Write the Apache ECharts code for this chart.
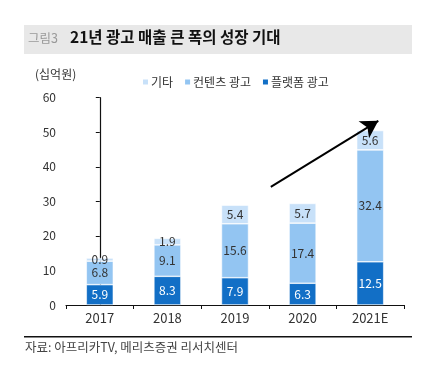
<!DOCTYPE html>
<html><head><meta charset="utf-8">
<script src="https://cdn.jsdelivr.net/npm/echarts@6/dist/echarts.min.js"></script>
<style>html,body{margin:0;padding:0;background:#fff;}#c{width:432px;height:367px;}</style>
</head><body><div id="c"></div>
<script>
const categories = ['2017', '2018', '2019', '2020', '2021E'];
const platform = [5.9, 8.3, 7.9, 6.3, 12.5];
const content = [6.8, 9.1, 15.6, 17.4, 32.4];
const other = [0.9, 1.9, 5.4, 5.7, 5.6];
const seriesNames = ['플랫폼 광고', '컨텐츠 광고', '기타'];
const arrowStart = [2.53, 34.2];
const arrowEnd = [4.12, 53.3];

const FONT = '"Noto Sans CJK KR", "Noto Sans", sans-serif';
const chart = echarts.init(document.getElementById('c'), null, {renderer: 'canvas'});
const colors = ['#126FC6', '#93C5F2', '#C8E1F9'];
function barSeries(name, data, idx) {
  return {
    name: name, type: 'bar', stack: 'total', data: data,
    xAxisIndex: 0, yAxisIndex: 0,
    barWidth: '40%',
    itemStyle: {color: colors[idx], borderColor: '#fff', borderWidth: 0.6},
    label: {show: true, position: 'inside', fontFamily: FONT, fontSize: 12,
      color: idx === 0 ? '#fff' : '#333', formatter: p => p.value.toFixed(1)}
  };
}
chart.setOption({
  animation: false,
  textStyle: {fontFamily: FONT},
  graphic: [
    {type: 'rect', shape: {x: 24, y: 25, width: 388, height: 29}, style: {fill: '#E8E8E8'}},
    {type: 'text', left: 28, top: 32, style: {text: '그림3', fill: '#999', font: '12.5px ' + FONT}},
    {type: 'text', left: 70, top: 29, style: {text: '21년 광고 매출 큰 폭의 성장 기대', fill: '#111', font: 'bold 15.5px ' + FONT}},
    {type: 'text', left: 35, top: 68, style: {text: '(십억원)', fill: '#333', font: '12px ' + FONT}},
    {type: 'rect', shape: {x: 24, y: 336, width: 388, height: 1.5}, style: {fill: '#111'}},
    {type: 'text', left: 25, top: 341, style: {text: '자료: 아프리카TV, 메리츠증권 리서치센터', fill: '#444', font: '12.5px ' + FONT}}
  ],
  legend: {
    top: 71, left: 136, itemWidth: 7, itemHeight: 7, itemGap: 10,
    icon: 'rect',
    data: ['기타', '컨텐츠 광고', '플랫폼 광고'],
    textStyle: {fontFamily: FONT, fontSize: 12, color: '#333', padding: [0, 0, 0, -3]}
  },
  grid: {left: 66, right: 28, top: 97.7, bottom: 62},
  xAxis: [{
    type: 'category', data: categories,
    axisLine: {lineStyle: {color: '#111', width: 1.2}},
    axisTick: {show: true, length: 4, lineStyle: {color: '#111'}},
    axisLabel: {color: '#333', fontSize: 13, fontFamily: FONT, margin: 7}
  }, {
    type: 'value', min: -0.5, max: 4.5, show: false
  }],
  yAxis: {
    type: 'value', min: 0, max: 60, interval: 10,
    axisLine: {show: true, lineStyle: {color: '#111', width: 1.2}},
    axisTick: {show: true, length: 4, lineStyle: {color: '#111'}},
    splitLine: {show: false},
    axisLabel: {color: '#333', fontSize: 12, fontFamily: FONT, margin: 10}
  },
  series: [
    barSeries(seriesNames[0], platform, 0),
    barSeries(seriesNames[1], content, 1),
    barSeries(seriesNames[2], other, 2),
    {
      type: 'line', xAxisIndex: 1, yAxisIndex: 0, data: [], silent: true,
      markLine: {
        silent: true, symbol: ['none', 'arrow'], symbolSize: [15, 17],
        label: {show: false},
        lineStyle: {color: '#000', width: 2, type: 'solid'},
        data: [[{coord: arrowStart}, {coord: arrowEnd}]]
      }
    }
  ]
});
</script></body></html>
